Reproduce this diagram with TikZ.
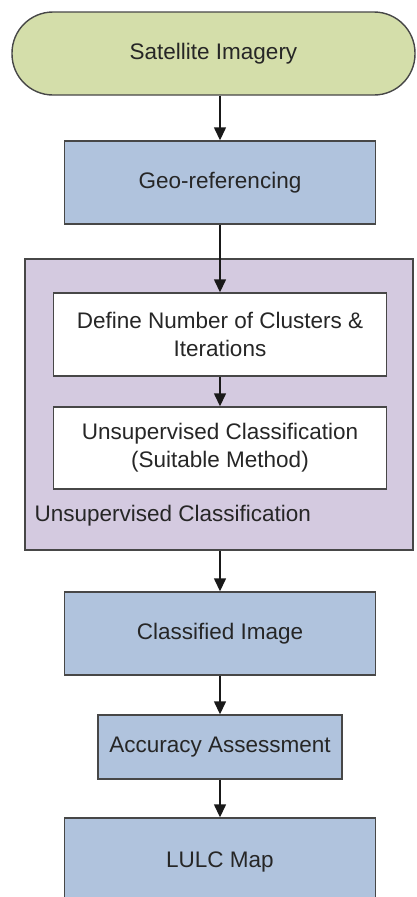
\documentclass[tikz,border=0pt]{standalone}
\usepackage{fontspec}
\setmainfont{Liberation Sans}
\usetikzlibrary{arrows.meta}
\definecolor{termgreen}{HTML}{D4DEAA}
\definecolor{stepblue}{HTML}{B0C3DD}
\definecolor{grouppurple}{HTML}{D4CAE0}
\definecolor{edgegray}{HTML}{474747}
\begin{document}
\begin{tikzpicture}[x=1pt,y=-1pt,
    every node/.style={font=\fontsize{22.5}{28}\selectfont,text=black!85},
    box/.style={draw=edgegray,line width=1.4pt,rectangle,inner sep=0pt,align=center},
    terminal/.style={box,fill=termgreen,rounded corners=41pt},
    stepbox/.style={box,fill=stepblue},
    innerbox/.style={box,fill=white},
    groupbox/.style={box,fill=grouppurple},
    flow/.style={draw=black!90,line width=1.4pt,-{Triangle[length=13pt,width=12pt]}}]
  \clip (0,0) rectangle (416,897);
  \fill[white] (0,0) rectangle (416,897);
  \node[groupbox,minimum width=388pt,minimum height=291pt] (group) at (219,404.5) {};
  \draw
    (213.5,53.5) node[terminal,minimum width=403pt,minimum height=83pt] (sat){Satellite Imagery}
    (220,182.5) node[stepbox,minimum width=311pt,minimum height=83pt] (geo){Geo-referencing}
    (220,334.5) node[innerbox,minimum width=333pt,minimum height=83pt] (define){Define Number of Clusters \&\\Iterations}
    (220,448) node[innerbox,minimum width=333pt,minimum height=82pt] (unsup){Unsupervised Classification\\(Suitable Method)}
    (220,633.5) node[stepbox,minimum width=311pt,minimum height=83pt] (classified){Classified Image}
    (220,747) node[stepbox,minimum width=244pt,minimum height=64pt] (accuracy){Accuracy Assessment}
    (220,862) node[stepbox,minimum width=311pt,minimum height=88pt] (lulc){LULC Map};
  \node[anchor=west] (grouplabel) at (31,516) {Unsupervised Classification};
  \begin{scope}[flow]
    \draw (sat.south -| geo.north) to (geo.north);
    \draw (geo.south) to (define.north);
    \draw (define.south) to (unsup.north);
    \draw (group.south -| classified.north) to (classified.north);
    \draw (classified.south) to (accuracy.north);
    \draw (accuracy.south) to (lulc.north);
  \end{scope}
\end{tikzpicture}
\end{document}
